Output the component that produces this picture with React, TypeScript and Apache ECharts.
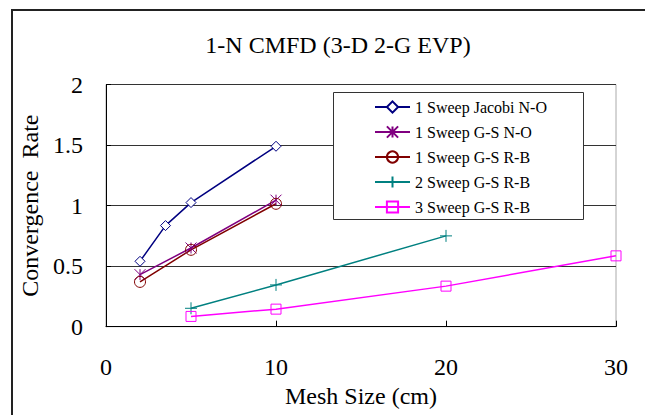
import React, { useEffect, useRef } from "react";
import * as echarts from "echarts";

const titleText = "1-N CMFD (3-D 2-G EVP)";
const xAxisName = "Mesh Size (cm)";
const yAxisName = "Convergence  Rate";

const seriesNames = [
  "1 Sweep Jacobi N-O",
  "1 Sweep G-S N-O",
  "1 Sweep G-S R-B",
  "2 Sweep G-S R-B",
  "3 Sweep G-S R-B",
];
const seriesColors = ["#000080", "#800080", "#800000", "#008080", "#FF00FF"];

const jacobiNO = [[2, 0.54], [3.5, 0.835], [5, 1.025], [10, 1.49]];
const gsNO1 = [[2, 0.43], [5, 0.65], [10, 1.045]];
const gsRB1 = [[2, 0.37], [5, 0.635], [10, 1.015]];
const gsRB2 = [[5, 0.152], [10, 0.345], [20, 0.75]];
const gsRB3 = [[5, 0.085], [10, 0.145], [20, 0.335], [30, 0.585]];

const asteriskPath = "path://M0,0L10,10M10,0L0,10M5,0L5,10";
const plusPath = "path://M0,5L10,5M5,0L5,10";

const FONT = "Liberation Serif, Times New Roman, serif";

export default function App() {
  const ref = useRef<HTMLDivElement>(null);
  useEffect(() => {
    if (!ref.current) return;
    const chart = echarts.init(ref.current, undefined, { renderer: "svg" });
    const data = [jacobiNO, gsNO1, gsRB1, gsRB2, gsRB3];
    const symbols = ["diamond", asteriskPath, "circle", plusPath, "rect"];
    const sizes = [10, 11, 11, 12, 10];
    const fills = ["#ffffff", "transparent", "transparent", "transparent", "transparent"];
    chart.setOption({
      animation: false,
      textStyle: { fontFamily: FONT },
      title: {
        text: titleText,
        left: 333,
        top: 28,
        textAlign: "center",
        textStyle: { fontFamily: FONT, fontSize: 24, fontWeight: "normal", color: "#000" },
      },
      graphic: [
        {
          type: "rect",
          shape: { x: 12, y: 10, width: 700, height: 500 },
          style: { fill: "none", stroke: "#222", lineWidth: 2 },
          silent: true,
          z: 1,
        },
        {
          type: "rect",
          shape: { x: 333.5, y: 92.5, width: 250, height: 127 },
          style: { fill: "#fff", stroke: "#333", lineWidth: 1 },
          silent: true,
          z: 3,
        },
      ],
      legend: {
        orient: "vertical",
        left: 333,
        top: 92,
        padding: [7, 40, 5, 41],
        itemWidth: 35,
        itemHeight: 14,
        itemGap: 9,
        z: 4,
        data: seriesNames,
        textStyle: { fontFamily: FONT, fontSize: 16, color: "#000" },
      },
      grid: {
        left: 106,
        right: 29,
        top: 84.5,
        bottom: 88.3,
        show: true,
        borderColor: "#aaa",
        borderWidth: 1,
        backgroundColor: "transparent",
      },
      xAxis: {
        type: "value",
        min: 0,
        max: 30,
        interval: 10,
        name: xAxisName,
        nameLocation: "middle",
        nameGap: 54,
        nameTextStyle: { fontFamily: FONT, fontSize: 24, color: "#000" },
        axisLine: { show: true, lineStyle: { color: "#000", width: 1 } },
        axisTick: { show: true, inside: true, length: 6, lineStyle: { color: "#000" } },
        axisLabel: { fontFamily: FONT, fontSize: 24, color: "#000", margin: 28 },
        splitLine: { show: false },
      },
      yAxis: {
        type: "value",
        min: 0,
        max: 2,
        interval: 0.5,
        name: yAxisName,
        nameLocation: "middle",
        nameGap: 57,
        nameTextStyle: { fontFamily: FONT, fontSize: 24, color: "#000" },
        axisLine: { show: true, lineStyle: { color: "#000", width: 1 } },
        axisTick: { show: true, inside: true, length: 5, lineStyle: { color: "#000" } },
        axisLabel: { fontFamily: FONT, fontSize: 24, color: "#000", margin: 23 },
        splitLine: { show: true, lineStyle: { color: "#333", width: 1 } },
      },
      series: seriesNames.map((name, i) => ({
        name,
        type: "line",
        data: data[i],
        symbol: symbols[i],
        symbolSize: sizes[i],
        showAllSymbol: true,
        lineStyle: { color: seriesColors[i], width: 1.5 },
        itemStyle: { color: fills[i], borderColor: seriesColors[i], borderWidth: 1 },
        z: 2,
      })),
    });
    return () => chart.dispose();
  }, []);
  return (
    <div
      ref={ref}
      style={{ position: "fixed", left: 0, top: 0, width: 645, height: 415, background: "#fff" }}
    />
  );
}
